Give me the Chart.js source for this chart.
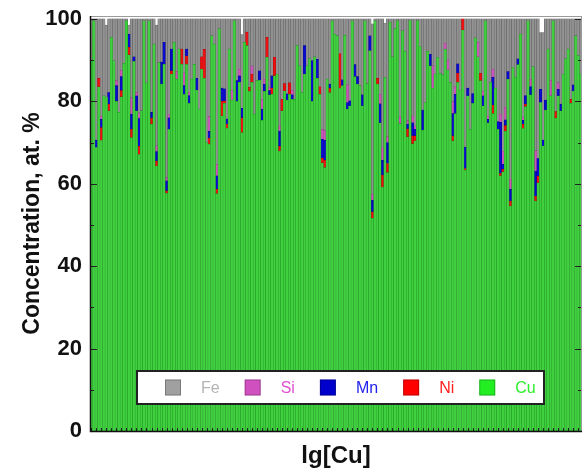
<!DOCTYPE html>
<html>
<head>
<meta charset="utf-8">
<script src="https://cdn.jsdelivr.net/npm/chart.js@4.4.1/dist/chart.umd.min.js"></script>
<style>
  html, body { margin: 0; padding: 0; background: #fff; }
  #wrap { width: 586px; height: 471px; }
</style>
</head>
<body>
<div id="wrap"><canvas id="c" width="586" height="471"></canvas></div>
<script>
// Composition of each sample, at. % (stacked bottom-up: Cu, Ni, Mn, Si, Fe)
const cu = [
  90, 99.5, 68.8, 83.5, 70.5, 81.3, 81, 77.7, 95.5, 89.8, 80, 77.3, 81.1, 89.2, 99.5, 91.3, 71.2, 89.7, 77.7, 67.1, 77.7, 99.5, 84.4, 99.5, 74.4, 93.9, 64.3, 89.4, 84.2, 89.0, 57.7, 73.2, 86.6,
  94.3, 85.4, 92.7, 89.0, 81.7, 89.0, 79.5, 85.4, 89.0, 82.7, 78.1, 87.8, 85.6, 70.0, 69.6, 95.9, 93.9, 57.6, 97.6, 76.5, 79.5, 73.5, 92.7, 80.3, 99.5, 80.0, 84.6, 72.4, 94.3, 93.5, 82.4, 84.6,
  76.9, 85.0, 85.1, 75.4, 82.4, 90.7, 81.6, 81.7, 86.2, 86.6, 67.9, 77.7, 82.5, 80.3, 81.7, 80.5, 80.5, 93.5, 88.6, 82.1, 86.6, 88.6, 90.3, 80.0, 90.8, 85.6, 81.7, 65.1, 63.9, 85.4, 82.1, 99.5, 96.3,
  95.9, 83.2, 83.8, 96.0, 78.1, 78.9, 99.5, 86.0, 84.2, 83.8, 78.9, 99.5, 84.3, 92.3, 51.6, 99.5, 84.2, 74.8, 59.2, 85.8, 62.7, 99.2, 90.8, 97.6, 99.5, 74.6, 97.1, 92.1, 71.4, 99.6, 69.7, 70.4, 99.5,
  93.3, 73.0, 79.7, 92.1, 88.6, 83.2, 86.6, 90.7, 86.8, 86.4, 92.7, 87.6, 84.6, 70.4, 77.0, 84.6, 82.7, 97.3, 63.3, 81.3, 73.2, 79.5, 95.4, 90.8, 85.0, 78.9, 99.5, 74.8, 84.6, 77.0, 83.2, 73.2,
  61.9, 62.9, 72.7, 85.4, 54.6, 88.2, 85.8, 88.9, 96.3, 73.4, 78.7, 99.5, 81.6, 88.4, 55.8, 60.2, 79.7, 69.2, 77.9, 92.7, 81.3, 99.5, 75.9, 81.3, 77.7, 86.6, 90.3, 92.7, 79.5, 82.5, 95.9, 91.1, 86.6
];
const ni = [
  0, 0, 0, 2.1, 3.1, 0, 0, 1.6, 0, 0, 0, 0, 1.5, 0, 0, 1.8, 2.0, 0, 0, 2.0, 0, 0, 0, 0, 1.5, 0, 1.2, 0, 0, 0, 0.6, 0, 0.8,
  0, 0, 0, 3.7, 0, 2.0, 0, 0, 0, 0, 0, 3.0, 7.0, 0, 1.5, 0, 0, 1.1, 0, 3.5, 0.6, 1.0, 0, 0, 0, 0, 0, 3.6, 0, 3.3, 1.0, 2.0,
  0, 0, 0, 0, 0, 4.8, 0, 1.5, 4.5, 0, 1.2, 2.8, 1.8, 0, 2.8, 0, 0, 0, 0, 0, 0, 0, 0, 0, 0, 0, 1.8, 1.1, 1.8, 0, 1.1, 0, 0,
  0, 8.4, 0, 0, 0, 0, 0, 0, 0, 0, 0, 0, 0, 0, 1.6, 0, 1.4, 0, 2.9, 0, 2.2, 0, 0, 0, 0, 0, 0, 0, 1.9, 0, 1.9, 1.2, 0,
  0, 0, 0, 0, 0, 0, 0, 0, 0, 0, 0, 0, 0, 1.2, 0, 2.2, 0, 2.7, 0.4, 0, 0, 0, 0, 0, 1.8, 0, 0, 0, 0, 2.1, 0, 0,
  0.6, 0.6, 1.4, 0, 1.2, 0, 0, 0, 0, 1.0, 0.6, 0, 0, 0, 1.2, 1.6, 0, 0, 0, 0, 0, 0, 1.6, 0, 0, 0, 0, 0, 1.0, 0, 0, 0, 0
];
const mn = [
  0, 0, 1.8, 0, 2.0, 0, 0, 2.8, 0, 0, 3.8, 0, 3.4, 0, 0, 3.2, 3.7, 1.1, 3.6, 6.7, 0, 0, 0, 0, 1.4, 0, 2.3, 0, 5.3, 5.3, 2.4, 2.8, 5.3,
  0, 0, 0, 0, 2.1, 1.7, 1.9, 0, 0, 2.9, 0, 0, 0, 0, 1.6, 0, 0, 3.2, 0, 3.2, 2.9, 1.2, 0, 0, 0, 5.0, 1.6, 2.3, 0, 0, 0, 0,
  0, 0, 2.3, 2.7, 1.8, 0, 1.0, 3.0, 0, 0, 3.7, 0, 0, 1.5, 0, 1.1, 0, 0, 0, 0, 6.9, 0, 0, 9.9, 0, 4.6, 0, 4.6, 4.9, 0, 1.0, 0, 0,
  0, 0, 1.4, 0, 1.6, 1.2, 0, 2.9, 1.8, 0, 2.7, 0, 0, 3.6, 2.8, 0, 0, 4.6, 3.6, 0, 5.1, 0, 0, 0, 0, 0, 0, 0, 1.2, 0, 3.2, 1.6, 0,
  0, 4.9, 0, 0, 2.8, 0, 0, 0, 0, 0, 0, 0, 0, 5.4, 4.7, 2.3, 0, 0, 5.2, 1.9, 0, 2.4, 0, 0, 0, 2.4, 0, 0.8, 0, 6.7, 0, 1.9,
  12.4, 1.2, 1.4, 1.8, 2.9, 0, 0, 1.4, 0, 1.0, 2.1, 0, 2.0, 0, 6.1, 4.3, 3.2, 1.4, 2.4, 0, 0, 0, 0, 1.6, 1.6, 0, 0, 0, 0, 1.5, 0, 0, 0
];
const si = [
  0, 0, 0, 0, 0.8, 0, 0, 0, 0, 0, 1.2, 0, 1.5, 0, 0, 0, 4.0, 0, 0.8, 1.4, 0, 0, 0, 0, 0, 0, 1.4, 0, 0, 0, 0.8, 0.8, 0,
  0, 1.9, 0, 0, 3.2, 0, 0.8, 0, 0, 0, 0, 0, 0, 0, 3.6, 0, 0, 2.8, 0, 0, 0, 0, 0, 2.4, 0, 0, 1.6, 0, 0, 0, 0, 2.0,
  0, 0, 0, 2.4, 1.2, 0, 0.8, 0, 0, 0, 1.2, 0, 0, 0, 0, 1.1, 0, 0, 0, 0, 0, 0, 0, 0, 0, 0, 0, 2.4, 2.3, 0, 0, 0, 0,
  0, 0, 0, 0, 4.3, 0, 0, 0, 0, 0, 0, 0, 0, 0, 1.4, 0, 0, 2.3, 3.1, 0, 1.4, 0, 0, 0, 0, 1.6, 0, 0, 0.8, 0, 1.6, 0.8, 0,
  0, 0, 0, 0, 0, 5.4, 0, 0, 0, 0, 1.4, 2.4, 0, 2.9, 1.8, 0, 0, 0, 0, 0, 0, 0, 0, 3.5, 0, 1.2, 0, 0.8, 0, 2.0, 0, 0,
  2.0, 3.2, 3.1, 0, 2.4, 0, 0, 0, 0, 0.8, 0, 0, 1.8, 0, 4.9, 0, 0, 0, 0, 0, 3.8, 0, 0, 1.6, 0, 0, 0, 0, 0, 0, 0, 0, 0
];
const fe = [
  10, 0.5, 29.4, 14.4, 23.6, 18.7, 17.5, 17.9, 4.5, 10.2, 15, 22.7, 12.5, 10.8, 0.5, 2.2, 19.1, 9.2, 17.9, 22.8, 22.3, 0.5, 15.6, 0.5, 22.7, 6.1, 29.3, 10.6, 10.5, 5.7, 38.5, 23.2, 7.3,
  5.7, 12.7, 7.3, 7.3, 13.0, 7.3, 17.8, 14.6, 11.0, 14.4, 21.9, 9.2, 7.4, 30.0, 23.7, 4.1, 6.1, 35.3, 2.4, 16.8, 17.0, 24.3, 7.3, 17.3, 0.5, 15.0, 12.2, 17.9, 5.7, 3.2, 16.6, 11.4,
  23.1, 15.0, 12.6, 19.5, 14.6, 4.5, 16.6, 13.8, 9.3, 13.4, 26.0, 19.5, 15.7, 18.2, 15.5, 17.3, 19.5, 6.5, 11.4, 17.9, 6.5, 11.4, 9.7, 10.1, 9.2, 9.8, 16.5, 26.8, 27.1, 14.6, 15.8, 0.5, 3.7,
  4.1, 8.4, 14.8, 4.0, 16.0, 19.9, 0.5, 11.1, 14.0, 16.2, 18.4, 0.5, 15.7, 4.1, 41.4, 0.5, 14.4, 18.3, 31.2, 13.2, 28.6, 0.8, 9.2, 2.4, 0.5, 23.8, 2.9, 7.9, 24.7, 0.4, 23.6, 26.0, 0.5,
  6.7, 22.1, 20.3, 7.9, 8.6, 11.4, 13.4, 9.3, 13.2, 13.6, 5.9, 10.0, 15.4, 20.1, 16.5, 10.9, 17.3, 0, 31.1, 16.8, 26.8, 18.1, 4.6, 5.7, 13.2, 17.5, 0.5, 23.6, 15.4, 12.2, 16.8, 24.9,
  23.1, 32.1, 21.4, 12.8, 38.9, 11.8, 14.2, 9.7, 3.7, 23.8, 18.6, 0.5, 14.6, 11.6, 32.0, 33.9, 13.8, 26.1, 19.7, 7.3, 14.9, 0.5, 22.5, 15.5, 20.7, 13.4, 9.7, 7.3, 19.5, 16.0, 4.1, 8.9, 13.4
];
const samples = cu.map((_, i) => 'S' + (i + 1));
const yTicks = [0, 20, 40, 60, 80, 100];

const FONT = "'Liberation Sans', Arial, Helvetica, sans-serif";

// Element styles: fill, bar edge, legend text colour, legend key colour
const elements = {
  Cu: { data: cu, fill: '#40d040', edge: '#1f951f', text: '#2cf02c', key: '#22ee22' },
  Ni: { data: ni, fill: '#ee1111', edge: '#b00000', text: '#ff2020', key: '#ff0000' },
  Mn: { data: mn, fill: '#0a0ad0', edge: '#000090', text: '#2222ee', key: '#0000cc' },
  Si: { data: si, fill: '#cc55bb', edge: '#994488', text: '#e050d0', key: '#d050c0' },
  Fe: { data: fe, fill: '#929292', edge: '#5e5e5e', text: '#b4b4b4', key: '#a0a0a0' }
};
const stackOrder = ['Cu', 'Ni', 'Mn', 'Si', 'Fe'];
const legendOrder = ['Fe', 'Si', 'Mn', 'Ni', 'Cu'];

const datasets = stackOrder.map(name => ({
  label: name,
  data: elements[name].data,
  backgroundColor: elements[name].fill,
  borderColor: elements[name].edge,
  borderWidth: 0.5,
  borderSkipped: false,
  barPercentage: 1.0,
  categoryPercentage: 1.0
}));

// Frame, inward ticks and the boxed legend inside the plot
const framePlugin = {
  id: 'frameAndKey',
  afterDatasetsDraw(chart) {
    const { ctx, chartArea: a, scales } = chart;
    const ys = scales.y, xs = scales.x;
    ctx.save();
    ctx.strokeStyle = '#222';
    ctx.lineWidth = 1;
    // y ticks (major and minor), both sides, pointing inward
    for (let v = 0; v <= 100; v += 10) {
      const y = Math.round(ys.getPixelForValue(v)) + 0.5;
      const len = v % 20 === 0 ? 7 : 4;
      ctx.beginPath();
      ctx.moveTo(a.left, y); ctx.lineTo(a.left + len, y);
      ctx.moveTo(a.right, y); ctx.lineTo(a.right - len, y);
      ctx.stroke();
    }
    // x ticks
    for (let i = 0; i < samples.length; i += 2) {
      const x = Math.round(xs.getPixelForValue(i)) + 0.5;
      ctx.beginPath();
      ctx.moveTo(x, a.bottom); ctx.lineTo(x, a.bottom - 3);
      ctx.stroke();
    }
    // frame
    ctx.strokeStyle = '#9a9a9a';
    ctx.beginPath();
    ctx.moveTo(a.left, a.top + 0.5); ctx.lineTo(a.right, a.top + 0.5);
    ctx.moveTo(a.right - 0.5, a.top); ctx.lineTo(a.right - 0.5, a.bottom);
    ctx.stroke();
    ctx.strokeStyle = '#111';
    ctx.lineWidth = 1.5;
    ctx.beginPath();
    ctx.moveTo(a.left + 0.5, a.top); ctx.lineTo(a.left + 0.5, a.bottom + 0.5);
    ctx.lineTo(a.right, a.bottom + 0.5);
    ctx.stroke();

    // legend box
    const bx = 137, by = 371, bw = 407, bh = 33;
    ctx.fillStyle = '#fff';
    ctx.fillRect(bx, by, bw, bh);
    ctx.strokeStyle = '#222';
    ctx.lineWidth = 2;
    ctx.strokeRect(bx, by, bw, bh);
    ctx.font = '16px ' + FONT;
    ctx.textBaseline = 'middle';
    ctx.textAlign = 'left';
    let x = 165;
    const cy = by + bh / 2;
    legendOrder.forEach(name => {
      const e = elements[name];
      ctx.fillStyle = e.key;
      ctx.fillRect(x, cy - 8, 16, 16);
      ctx.strokeStyle = 'rgba(0,0,0,0.25)';
      ctx.lineWidth = 1;
      ctx.strokeRect(x + 0.5, cy - 7.5, 15, 15);
      ctx.fillStyle = e.text;
      ctx.fillText(name, x + 36, cy + 1);
      x += 36 + ctx.measureText(name).width + 25;
    });
    ctx.restore();
  }
};

new Chart(document.getElementById('c'), {
  type: 'bar',
  data: { labels: samples, datasets },
  options: {
    responsive: false,
    animation: false,
    devicePixelRatio: 1,
    layout: { padding: { top: 16, right: 4, left: 0, bottom: 0 } },
    plugins: { legend: { display: false }, tooltip: { enabled: false } },
    scales: {
      x: {
        stacked: true,
        grid: { display: false },
        border: { display: false },
        ticks: { display: false },
        title: {
          display: true, text: 'lg[Cu]', color: '#111',
          font: { family: FONT, size: 24, weight: 'bold' },
          padding: { top: 0, bottom: 0 }
        },
        afterFit: s => { s.height = 40; }
      },
      y: {
        stacked: true,
        min: 0, max: 100.7,
        grid: { display: false, drawTicks: false },
        border: { display: false },
        afterBuildTicks: s => { s.ticks = yTicks.map(v => ({ value: v })); },
        ticks: {
          color: '#111', padding: 8,
          font: { family: FONT, size: 22, weight: 'bold' }
        },
        title: {
          display: true, text: 'Concentration, at. %', color: '#111',
          font: { family: FONT, size: 23, weight: 'bold' },
          padding: { top: 19, bottom: 0 }
        },
        afterFit: s => { s.width = 90; s.paddingTop = 0; s.paddingBottom = 0; }
      }
    }
  },
  plugins: [framePlugin]
});
</script>
</body>
</html>
